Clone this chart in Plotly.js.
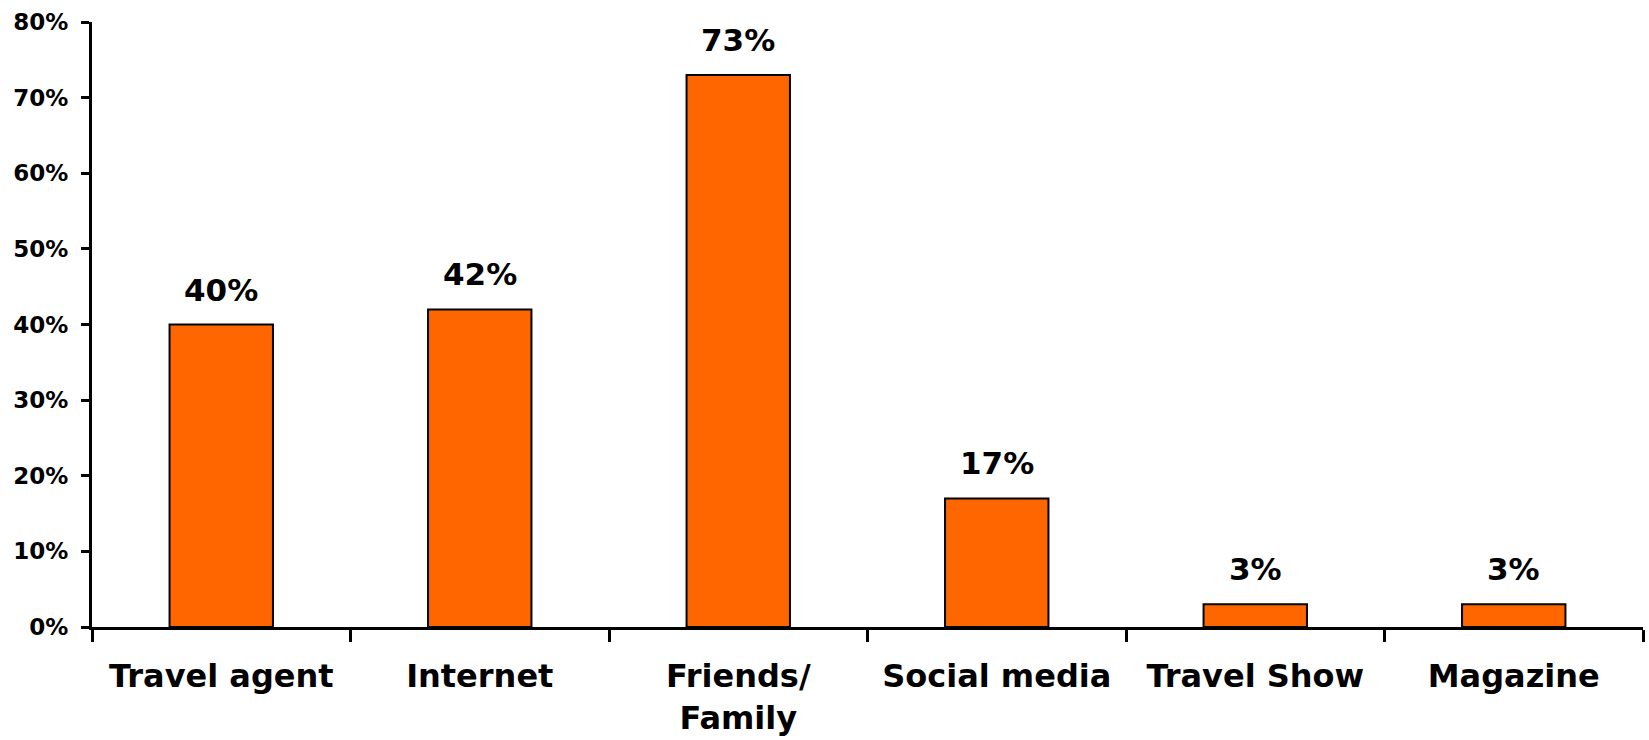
<!DOCTYPE html>
<html>
<head>
<meta charset="utf-8">
<script src="https://cdn.plot.ly/plotly-3.0.1.min.js"></script>
<style>html,body{margin:0;padding:0;background:#fff;}#chart{width:1649px;height:740px;}</style>
</head>
<body>
<div id="chart"></div>
<script>
const categories = ["Travel agent", "Internet", "Friends/<br>Family", "Social media", "Travel Show", "Magazine"];
const values = [40, 42, 73, 17, 3, 3];
const yTickValues = [0, 10, 20, 30, 40, 50, 60, 70, 80];
const yTickLabels = ["0%", "10%", "20%", "30%", "40%", "50%", "60%", "70%", "80%"];

const FONT = "'DejaVu Sans', sans-serif";

const trace = {
  type: "bar",
  x: categories,
  y: values,
  marker: {color: "#FF6600", line: {color: "#000000", width: 2}},
  hoverinfo: "none",
  cliponaxis: false
};

const annotations = categories.map((c, i) => ({
  x: c, y: values[i], xref: "x", yref: "y",
  text: values[i] + "%",
  showarrow: false, yanchor: "bottom", yshift: 15,
  font: {family: FONT, size: 31, color: "#000", weight: "bold"}
}));

const layout = {
  width: 1649, height: 740,
  margin: {l: 92, r: 6, t: 22, b: 113},
  paper_bgcolor: "#fff", plot_bgcolor: "#fff",
  showlegend: false,
  bargap: 0.6,
  font: {family: FONT, color: "#000"},
  xaxis: {
    type: "category",
    showline: true, linecolor: "#000", linewidth: 3,
    ticks: "outside", ticklen: 12, tickwidth: 3, tickcolor: "#000",
    tickson: "boundaries",
    ticklabelstandoff: 19,
    showgrid: false, zeroline: false,
    tickfont: {family: FONT, size: 32, color: "#000", weight: "bold", lineposition: "none"},
    range: [-0.5, 5.5]
  },
  yaxis: {
    range: [0, 80],
    tickvals: yTickValues, ticktext: yTickLabels,
    showline: true, linecolor: "#000", linewidth: 3,
    ticks: "outside", ticklen: 8, tickwidth: 3, tickcolor: "#000",
    ticklabelstandoff: 8,
    showgrid: false, zeroline: false,
    tickfont: {family: FONT, size: 23, color: "#000", weight: "bold"}
  },
  annotations: annotations
};

Plotly.newPlot("chart", [trace], layout, {displayModeBar: false, staticPlot: true});
</script>
</body>
</html>
